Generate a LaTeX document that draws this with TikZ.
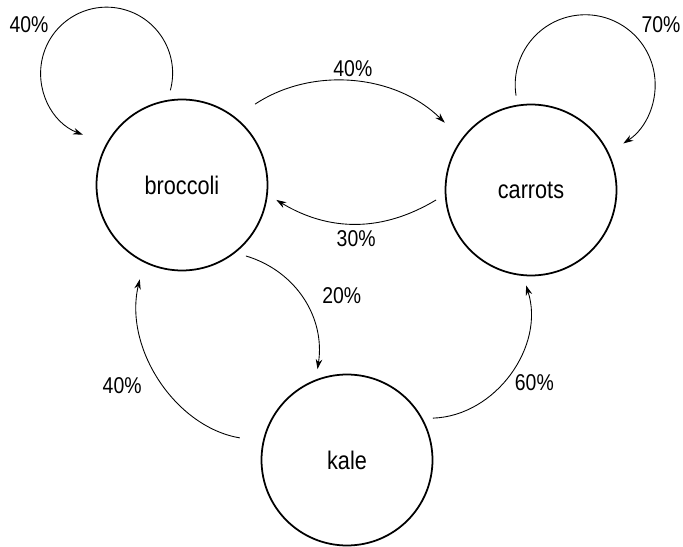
\documentclass[tikz,border=0pt]{standalone}
\usepackage{fontspec}
\setmainfont[FakeStretch=0.85]{Liberation Sans}
\usetikzlibrary{arrows.meta}

\begin{document}
\begin{tikzpicture}[x=0.02cm, y=0.02cm, >={Stealth[length=2mm, width=1.3mm]},
  veg/.style={draw, circle, line width=1pt, minimum size=3.42cm, inner sep=0pt,
    outer sep=0.2cm, font=\fontsize{14.5}{17}\selectfont},
  pct/.style={font=\fontsize{13}{15}\selectfont},
  move/.style={draw, ->, line width=0.5pt}]
\useasboundingbox (0,0) rectangle (683,-547);
\draw (182,-185) node[veg] (broc) {broccoli};
%% carrots
\draw (broc) ++ (349,-5) node[veg] (carr) {carrots};
\path[move, shorten <=0.28cm, shorten >=0.28cm] (broc.50) to[bend left=39]
  node[above, pct] {40\%} (carr.143);
\path[move] (carr.186) to[bend left=31] node[below, pct] {30\%} (broc.-9);
%% kale
\draw (broc) ++ (165,-275) node[veg] (kale) {kale};
\path[move] (broc.-48) to[bend left=41]
  node[pos=0.47, right=0.3cm, pct] {20\%} (kale.108);
\path[move, shorten <=0.28cm, shorten >=0.16cm] (kale.168) to[bend left=47]
  node[pos=0.47, left=0.35cm, pct] {40\%} (broc.245);
\path[move] (kale.26) to[bend right=53]
  node[pos=0.44, right=0.1cm, pct] {60\%} (carr.267);

%%%%%%%%%%%%%%%%%%%%%% loops

\path[move] (broc.97) arc[start angle=-15, end angle=249, radius=1.32cm];
\draw (29,-25) node[pct] (lbroc) {40\%};
\path[move] (carr.99) arc[start angle=189, end angle=-57, radius=1.4cm];
\draw (661,-25) node[pct] (lcarr) {70\%};
\end{tikzpicture}
\end{document}
